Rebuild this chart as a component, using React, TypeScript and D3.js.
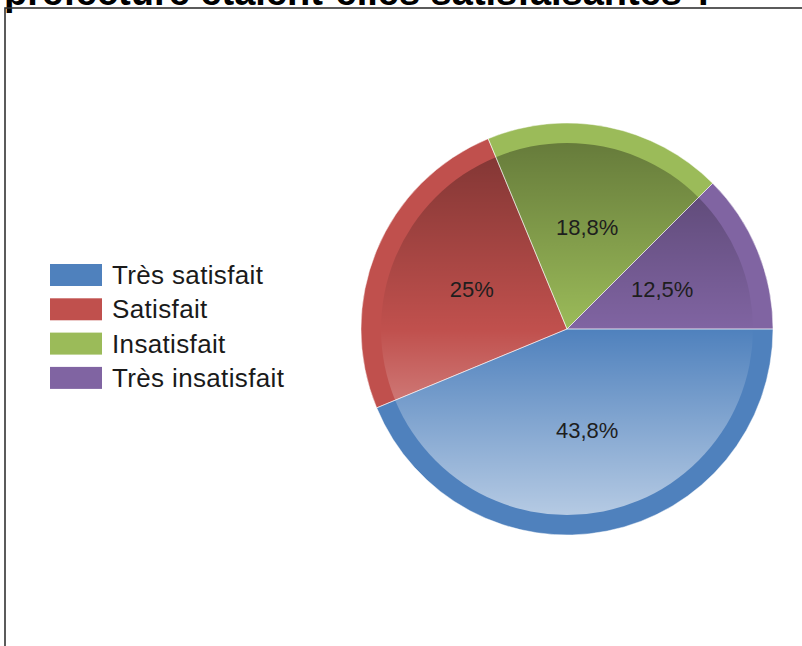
import React from "react";
import * as d3 from "d3";

const categories = ["Très satisfait", "Satisfait", "Insatisfait", "Très insatisfait"];
const values = [7, 4, 3, 2];
const colors = ["#4F81BD", "#C0504D", "#9BBB59", "#8064A2"];
const titleText = "préfecture étaient-elles satisfaisantes ?";

const W = 802;
const H = 646;
const cx = 567;
const cy = 329;
const R = 206;
const RI = 186;

export default function App() {
  const total = d3.sum(values);
  const pie = d3
    .pie<number>()
    .sort(null)
    .startAngle(Math.PI / 2)
    .endAngle(Math.PI / 2 + 2 * Math.PI)
    .value((d) => d);
  const arcs = pie(values);
  const outerArc = d3.arc<d3.PieArcDatum<number>>().innerRadius(0).outerRadius(R);
  const labelArc = d3.arc<d3.PieArcDatum<number>>().innerRadius(R / 2).outerRadius(R / 2);
  const fmt = (v: number) => {
    const p = Math.round((v / total) * 1000) / 10;
    const s = Number.isInteger(p) ? String(p) : p.toFixed(1);
    return s.replace(".", ",") + "%";
  };
  const legendY = d3.scaleBand<string>().domain(categories).range([264, 264 + 34.3 * 4]).paddingInner(0);

  return (
    <svg
      width={W}
      height={H}
      style={{ position: "fixed", left: 0, top: 0, background: "#fff" }}
      fontFamily="'Liberation Sans', Arial, sans-serif"
    >
      <defs>
        <linearGradient id="shade" gradientUnits="userSpaceOnUse" x1={0} y1={-RI} x2={0} y2={RI}>
          <stop offset="0" stopColor="#000" stopOpacity={0.34} />
          <stop offset="0.5" stopColor="#000" stopOpacity={0} />
          <stop offset="0.5" stopColor="#fff" stopOpacity={0} />
          <stop offset="1" stopColor="#fff" stopOpacity={0.58} />
        </linearGradient>
      </defs>
      <rect x={0} y={0} width={W} height={H} fill="#fff" />
      <text x={4} y={5} fontSize={38} fontWeight="bold" fill="#000">
        {titleText}
      </text>
      <rect x={5} y={8} width={W + 10} height={H + 10} fill="none" stroke="#333" strokeWidth={1.6} />
      <g transform={`translate(${cx},${cy})`}>
        {arcs.map((a, i) => (
          <path key={"o" + i} d={outerArc(a) || ""} fill={colors[i]} />
        ))}
        <circle r={RI} fill="url(#shade)" />
        {arcs.map((a, i) => (
          <path key={"s" + i} d={outerArc(a) || ""} fill="none" stroke="#fff" strokeOpacity={0.45} strokeWidth={1} />
        ))}
        {arcs.map((a, i) => {
          const [x, y] = labelArc.centroid(a);
          return (
            <text key={"l" + i} x={x} y={y} textAnchor="middle" dominantBaseline="central" fontSize={22} fill="#1e1e1e">
              {fmt(a.data)}
            </text>
          );
        })}
      </g>
      {categories.map((c, i) => {
        const y = legendY(c) as number;
        return (
          <g key={"lg" + i}>
            <rect x={50} y={y} width={52} height={22} fill={colors[i]} />
            <text x={112} y={y + 11} dominantBaseline="central" fontSize={26} letterSpacing={0.35} fill="#1a1a1a">
              {c}
            </text>
          </g>
        );
      })}
    </svg>
  );
}
